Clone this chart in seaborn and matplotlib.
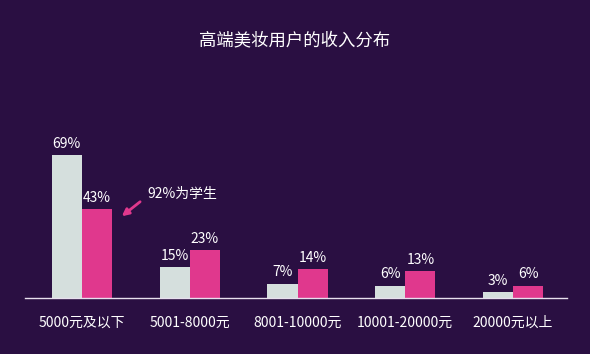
import pandas as pd
import matplotlib
matplotlib.use('Agg')
import matplotlib.pyplot as plt
import seaborn as sns

# 데이터
categories = ['5000元及以下', '5001-8000元', '8001-10000元', '10001-20000元', '20000元以上']
series_a = [69, 15, 7, 6, 3]     # 전체
series_b = [43, 23, 14, 13, 6]   # 고급 화장품 사용자
series_names = ['整体', '高端美妆用户']
title = '高端美妆用户的收入分布'
note = '92%为学生'

bg = '#2a0f42'
colors = ['#d5dfdd', '#e0388d']

df = pd.DataFrame({
    'cat': categories * 2,
    'val': series_a + series_b,
    'grp': [series_names[0]] * 5 + [series_names[1]] * 5,
})

sns.set_theme(style='white')
plt.rcParams['font.family'] = ['Noto Sans CJK SC', 'DejaVu Sans']

fig = plt.figure(figsize=(5.9, 3.54), dpi=100, facecolor=bg)
ax = fig.add_axes([28 / 590, 56 / 354, 539 / 590, 178 / 354])
ax.set_facecolor(bg)

sns.barplot(data=df, x='cat', y='val', hue='grp', palette=colors,
            width=0.56, ax=ax, legend=False, saturation=1,
            edgecolor='none', linewidth=0)

for cont in ax.containers:
    ax.bar_label(cont, labels=[f'{int(v)}%' for v in cont.datavalues],
                 color='white', fontsize=10, padding=3)

ax.set_xlim(-0.5, 4.5)
ax.set_ylim(0, 86)
ax.set_xlabel('')
ax.set_ylabel('')
ax.set_yticks([])
ax.tick_params(axis='x', colors='white', labelsize=10, length=0, pad=13)
for s in ['top', 'right', 'left']:
    ax.spines[s].set_visible(False)
ax.spines['bottom'].set_color('#e8e0ee')
ax.spines['bottom'].set_linewidth(1)
ax.spines['bottom'].set_bounds(-0.53, 4.5)

# 주석
ax.text(0.61, 50.5, note, color='white', fontsize=10, va='center')
ax.annotate('', xy=(0.37, 39.5), xytext=(0.54, 46.5),
            arrowprops=dict(arrowstyle='-|>', color='#e0388d', lw=2,
                            shrinkA=0, shrinkB=0, mutation_scale=10))

fig.text(0.5, 1 - 40 / 354, title, color='white', fontsize=12.5,
         ha='center', va='center')

fig.savefig('out.png', facecolor=bg)
